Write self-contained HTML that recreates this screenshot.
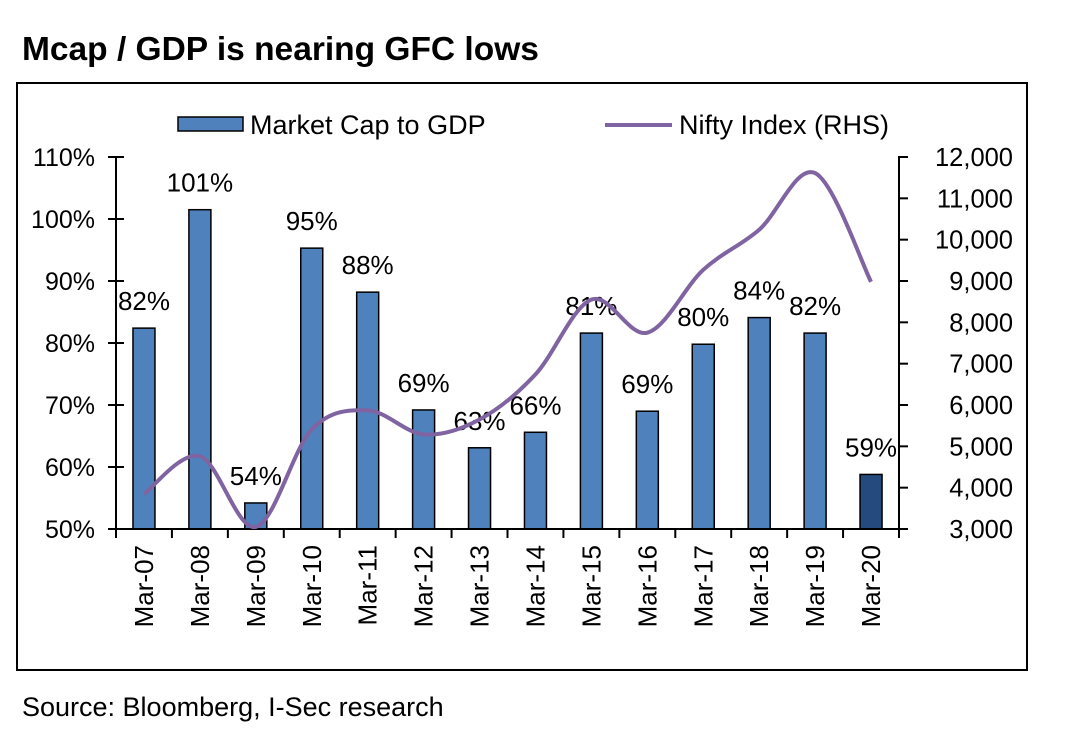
<!DOCTYPE html>
<html><head><meta charset="utf-8"><style>
body{margin:0;background:#fff;width:1080px;height:747px;overflow:hidden;font-family:"Liberation Sans",Arial,sans-serif}
</style></head><body>
<svg width="1080" height="747" font-family="Liberation Sans, Arial, sans-serif">
<text x="22" y="60" font-size="33.5" font-weight="bold">Mcap / GDP is nearing GFC lows</text>
<rect x="17" y="83" width="1010" height="587" fill="none" stroke="#000" stroke-width="2"/>
<text x="22" y="716" font-size="27">Source: Bloomberg, I-Sec research</text>
<g>
<rect x="178" y="117" width="65" height="14" fill="#4F81BD" stroke="#000" stroke-width="1.5"/>
<text x="250" y="134" font-size="27">Market Cap to GDP</text>
<line x1="605" y1="125" x2="672" y2="125" stroke="#8064A2" stroke-width="4"/>
<text x="679" y="134" font-size="27">Nifty Index (RHS)</text>
</g>
<g id="plot"></g>
</svg>
<script>
const categories=["Mar-07","Mar-08","Mar-09","Mar-10","Mar-11","Mar-12","Mar-13","Mar-14","Mar-15","Mar-16","Mar-17","Mar-18","Mar-19","Mar-20"];
const mcap=[82.4,101.5,54.2,95.3,88.2,69.2,63.1,65.6,81.6,69.0,79.8,84.1,81.6,58.8];
const mcapLabels=["82%","101%","54%","95%","88%","69%","63%","66%","81%","69%","80%","84%","82%","59%"];
const nifty=[3845,4760,3050,5410,5870,5290,5650,6740,8550,7750,9270,10240,11610,8980];
const leftTicks=[50,60,70,80,90,100,110];
const rightTicks=[3000,4000,5000,6000,7000,8000,9000,10000,11000,12000];

const NS="http://www.w3.org/2000/svg";
const g=document.getElementById('plot');
const X0=116,X1=899,YT=157,YB=529;
const step=(X1-X0)/categories.length;
const xc=i=>X0+step*(i+0.5);
const yL=v=>YB-(v-50)/60*(YB-YT);
const yR=v=>YB-(v-3000)/9000*(YB-YT);
function mk(t,a){const e=document.createElementNS(NS,t);for(const k in a)e.setAttribute(k,a[k]);g.appendChild(e);return e;}

mcap.forEach((v,i)=>{
 const r=mk('rect',{x:xc(i)-11,y:yL(v),width:22,height:YB-yL(v),fill:i===13?'#254B7E':'#4F81BD',stroke:'#000','stroke-width':1.5});
 
 
 const t=mk('text',{x:xc(i),y:yL(v)-18,'font-size':26,'text-anchor':'middle'});
 t.textContent=mcapLabels[i];
 
 
 const c=mk('text',{transform:`translate(${xc(i)+9},545) rotate(-90)`,'font-size':26,'text-anchor':'end'});
 c.textContent=categories[i];
 
 
});
let a=mk('line',{x1:X0,y1:YT,x2:X0,y2:YB,stroke:'#000','stroke-width':2});

a=mk('line',{x1:X1,y1:YT,x2:X1,y2:YB,stroke:'#000','stroke-width':2});

a=mk('line',{x1:X0,y1:YB,x2:X1,y2:YB,stroke:'#000','stroke-width':2});

for(let i=0;i<=categories.length;i++){const x=X0+step*i;const t=mk('line',{x1:x,y1:YB-1,x2:x,y2:YB+9,stroke:'#000','stroke-width':2});
 }
leftTicks.forEach(v=>{const y=yL(v);
 const t=mk('line',{x1:X0-8,y1:y,x2:X0+8,y2:y,stroke:'#000','stroke-width':2});
 
 const l=mk('text',{x:X0-21,y:y+9,'font-size':25,'text-anchor':'end'});l.textContent=v+'%';
 });
rightTicks.forEach(v=>{const y=yR(v);
 const t=mk('line',{x1:X1-1,y1:y,x2:X1+9,y2:y,stroke:'#000','stroke-width':2});
 
 const l=mk('text',{x:1013,y:y+9,'font-size':25.5,'text-anchor':'end'});l.textContent=v.toLocaleString('en-US');
 });
const pts=nifty.map((v,i)=>[xc(i),yR(v)]);
let d=`M${pts[0][0]},${pts[0][1]}`;
for(let i=0;i<pts.length-1;i++){const p0=pts[Math.max(0,i-1)],p1=pts[i],p2=pts[i+1],p3=pts[Math.min(pts.length-1,i+2)];
 const c1=[p1[0]+(p2[0]-p0[0])/6,p1[1]+(p2[1]-p0[1])/6],c2=[p2[0]-(p3[0]-p1[0])/6,p2[1]-(p3[1]-p1[1])/6];
 d+=` C${c1[0]},${c1[1]} ${c2[0]},${c2[1]} ${p2[0]},${p2[1]}`;}
const ln=mk('path',{d:d,fill:'none',stroke:'#8064A2','stroke-width':4,'stroke-linejoin':'round'});


</script>
</body></html>
